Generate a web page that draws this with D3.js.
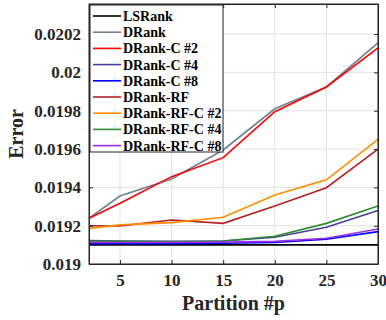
<!DOCTYPE html>
<html>
<head>
<meta charset="utf-8">
<script src="https://cdn.jsdelivr.net/npm/d3@7"></script>
<style>
  html, body { margin: 0; padding: 0; background: #fff; }
  svg { display: block; font-family: "Liberation Serif", "Times New Roman", serif; font-weight: bold; }
</style>
</head>
<body>
<div id="chart"></div>
<script>
// x values (partitions)
var partitions = [2, 5, 10, 15, 20, 25, 30];

var seriesNames = ['LSRank', 'DRank', 'DRank-C #2', 'DRank-C #4', 'DRank-C #8',
    'DRank-RF', 'DRank-RF-C #2', 'DRank-RF-C #4', 'DRank-RF-C #8'];
var seriesColors = ['#000000', '#708090', '#ff0000', '#4b3d9a', '#0000ff',
    '#b22222', '#ff8c00', '#2e8b2e', '#9b30e0'];

var lsRank      = [0.01910, 0.01910, 0.01910, 0.01910, 0.01910, 0.01910, 0.01910];
var dRank       = [0.019239, 0.019355, 0.019444, 0.019595, 0.019810, 0.019924, 0.020154];
var dRankC2     = [0.019239, 0.019317, 0.019456, 0.019555, 0.019795, 0.019924, 0.020128];
var dRankC4     = [0.019122, 0.019120, 0.019118, 0.019120, 0.019140, 0.019192, 0.019279];
var dRankC8     = [0.019106, 0.019106, 0.019106, 0.019108, 0.019112, 0.019129, 0.019169];
var dRankRF     = [0.019200, 0.019198, 0.019230, 0.019212, 0.019303, 0.019398, 0.019599];
var dRankRFC2   = [0.019186, 0.019204, 0.019216, 0.019244, 0.019360, 0.019439, 0.019651];
var dRankRFC4   = [0.019118, 0.019118, 0.019116, 0.019120, 0.019145, 0.019212, 0.019303];
var dRankRFC8   = [0.019112, 0.019112, 0.019112, 0.019114, 0.019118, 0.019134, 0.019183];

var seriesValues = [lsRank, dRank, dRankC2, dRankC4, dRankC8, dRankRF, dRankRFC2, dRankRFC4, dRankRFC8];

var xTicks = [5, 10, 15, 20, 25, 30];
var yTicks = [0.019, 0.0192, 0.0194, 0.0196, 0.0198, 0.02, 0.0202];
var yTickLabels = ['0.019', '0.0192', '0.0194', '0.0196', '0.0198', '0.02', '0.0202'];

var width = 386, height = 320;
var margin = { top: 4, right: 8, bottom: 56, left: 89 };
var plotWidth = width - margin.left - margin.right;
var plotHeight = height - margin.top - margin.bottom;

var svg = d3.select('#chart').append('svg')
    .attr('width', width)
    .attr('height', height);

var g = svg.append('g')
    .attr('transform', 'translate(' + margin.left + ',' + margin.top + ')');

var xScale = d3.scaleLinear().domain([2, 30]).range([0, plotWidth]);
var yScale = d3.scaleLinear().domain([0.019, 0.020357]).range([plotHeight, 0]);

// grid
g.selectAll('.vgrid').data(xTicks).enter().append('line')
    .attr('x1', function(d) { return xScale(d); })
    .attr('x2', function(d) { return xScale(d); })
    .attr('y1', 0).attr('y2', plotHeight)
    .attr('stroke', '#e3e3e3').attr('stroke-width', 1);
g.selectAll('.hgrid').data(yTicks).enter().append('line')
    .attr('x1', 0).attr('x2', plotWidth)
    .attr('y1', function(d) { return yScale(d); })
    .attr('y2', function(d) { return yScale(d); })
    .attr('stroke', '#e3e3e3').attr('stroke-width', 1);

// lines
var line = d3.line()
    .x(function(d, i) { return xScale(partitions[i]); })
    .y(function(d) { return yScale(d); });

seriesValues.forEach(function(vals, i) {
    g.append('path')
        .datum(vals)
        .attr('fill', 'none')
        .attr('stroke', seriesColors[i])
        .attr('stroke-width', 1.6)
        .attr('d', line);
});

// axes (box with inward ticks)
var axisColor = '#262626';
var bottomAxis = g.append('g')
    .attr('transform', 'translate(0,' + plotHeight + ')')
    .call(d3.axisBottom(xScale).tickValues(xTicks).tickSizeInner(-4).tickSizeOuter(0).tickPadding(10));
var leftAxis = g.append('g')
    .call(d3.axisLeft(yScale).tickValues(yTicks).tickSizeInner(-4).tickSizeOuter(0).tickPadding(8)
        .tickFormat(function(d, i) { return yTickLabels[i]; }));
g.append('g')
    .call(d3.axisTop(xScale).tickValues(xTicks).tickSizeInner(-4).tickSizeOuter(0).tickFormat(''));
g.append('g')
    .attr('transform', 'translate(' + plotWidth + ',0)')
    .call(d3.axisRight(yScale).tickValues(yTicks).tickSizeInner(-4).tickSizeOuter(0).tickFormat(''));

g.selectAll('.domain').attr('stroke', axisColor).attr('stroke-width', 1);
g.selectAll('.tick line').attr('stroke', axisColor);
g.selectAll('.tick text')
    .attr('fill', '#262626')
    .style('font-size', '17px')
    .style('font-family', '"Liberation Serif", "Times New Roman", serif')
    .style('font-weight', 'bold');

g.append('rect')
    .attr('x', 0).attr('y', 0)
    .attr('width', plotWidth).attr('height', plotHeight)
    .attr('fill', 'none').attr('stroke', axisColor).attr('stroke-width', 1);

// axis labels
g.append('text')
    .attr('x', plotWidth / 2)
    .attr('y', plotHeight + 46)
    .attr('text-anchor', 'middle')
    .attr('font-size', '20px')
    .attr('fill', '#262626')
    .text('Partition #p');

g.append('text')
    .attr('transform', 'rotate(-90)')
    .attr('x', -plotHeight / 2)
    .attr('y', -66)
    .attr('text-anchor', 'middle')
    .attr('font-size', '20px')
    .attr('fill', '#262626')
    .text('Error');

// legend
var legend = g.append('g').attr('transform', 'translate(1,1)');
legend.append('rect')
    .attr('x', 0).attr('y', 0)
    .attr('width', 133).attr('height', 147)
    .attr('fill', '#fff')
    .attr('stroke', axisColor).attr('stroke-width', 1);

seriesNames.forEach(function(name, i) {
    var y = 11 + i * 16.2;
    legend.append('line')
        .attr('x1', 3).attr('x2', 31)
        .attr('y1', y).attr('y2', y)
        .attr('stroke', seriesColors[i])
        .attr('stroke-width', 1.6);
    legend.append('text')
        .attr('x', 33)
        .attr('y', y + 5)
        .attr('font-size', '14px')
        .attr('fill', '#000')
        .text(name);
});
</script>
</body>
</html>
